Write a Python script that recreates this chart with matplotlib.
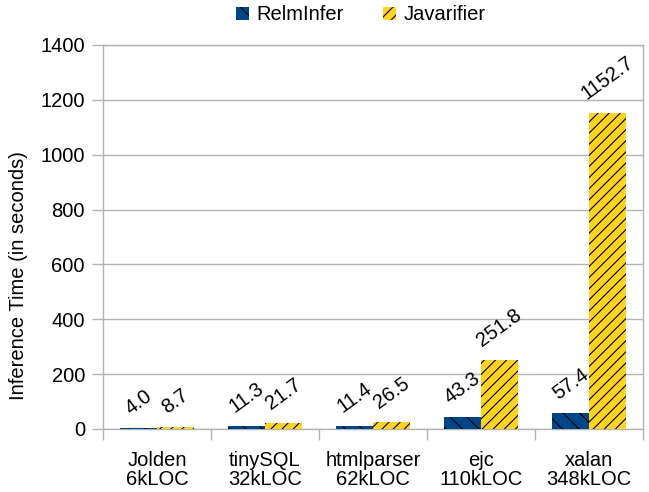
import matplotlib
matplotlib.use("Agg")
import matplotlib.pyplot as plt
import numpy as np

plt.rcParams['font.family'] = ['Liberation Sans', 'DejaVu Sans']
plt.rcParams['hatch.linewidth'] = 0.8

# data
benchmarks = ["Jolden\n6kLOC", "tinySQL\n32kLOC", "htmlparser\n62kLOC",
              "ejc\n110kLOC", "xalan\n348kLOC"]
relminfer = [4.0, 11.3, 11.4, 43.3, 57.4]
javarifier = [8.7, 21.7, 26.5, 251.8, 1152.7]
yticks = [0, 200, 400, 600, 800, 1000, 1200, 1400]

blue = "#004586"
yellow = "#ffd320"
grid_grey = "#b3b3b3"
fs = 14.5

fig = plt.figure(figsize=(6.49, 4.92), dpi=100)
ax = fig.add_axes([103/649, 1-429/492, 540/649, 384/492])

x = np.arange(len(benchmarks))
w = 0.34
b1 = ax.bar(x - w/2, relminfer, w, color=blue, edgecolor="black",
            linewidth=0, hatch="\\\\", label="RelmInfer", zorder=3)
b2 = ax.bar(x + w/2, javarifier, w, color=yellow, edgecolor="black",
            linewidth=0, hatch="///", label="Javarifier", zorder=3)

# rotated value labels above each bar
for bars, vals in [(b1, relminfer), (b2, javarifier)]:
    for rect, v in zip(bars, vals):
        ax.annotate(f"{v:.1f}", (rect.get_x() + rect.get_width()/2, rect.get_height()),
                    xytext=(0, 7), textcoords="offset points",
                    ha="center", va="bottom", rotation=36, fontsize=fs, zorder=4)

ax.set_xlim(-0.5, len(benchmarks) - 0.5)
ax.set_ylim(0, 1400)
ax.set_yticks(yticks)
ax.set_yticklabels([str(t) for t in yticks], fontsize=fs)
ax.set_xticks(x)
ax.set_xticklabels(benchmarks, fontsize=fs, linespacing=1.0)
ax.set_xticks(np.arange(-0.5, len(benchmarks)), minor=True)
ax.tick_params(axis="x", which="major", length=0, pad=16)
ax.tick_params(axis="x", which="minor", length=8, color=grid_grey, width=1)
ax.tick_params(axis="y", length=8, color=grid_grey, width=1, pad=5)

ax.yaxis.grid(True, color=grid_grey, linewidth=1, zorder=0)
ax.set_axisbelow(True)
for s in ax.spines.values():
    s.set_color(grid_grey)
    s.set_linewidth(1)

ax.set_ylabel("Inference Time (in seconds)", fontsize=fs)
ax.yaxis.set_label_coords(-0.138, 0.40)

fig.legend(handles=[b1, b2], loc="center", bbox_to_anchor=(0.556, 1 - 15/492),
           ncol=2, frameon=False, fontsize=fs, handlelength=0.65, handleheight=0.65,
           columnspacing=1.95, handletextpad=0.35, borderpad=0, borderaxespad=0)

fig.savefig("out.png", dpi=100)
